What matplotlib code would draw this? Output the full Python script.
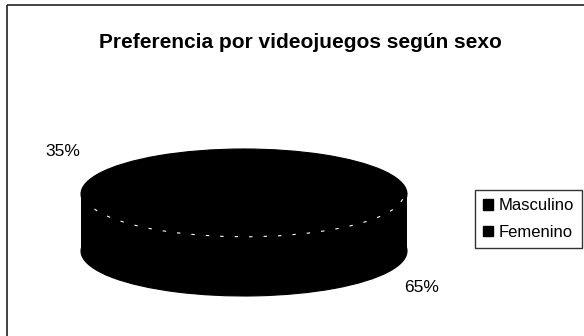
import matplotlib.pyplot as plt
from matplotlib.patches import Patch, Rectangle, Arc

# data
categories = ["Masculino", "Femenino"]
values = [35, 65]
pct_labels = [f"{v}%" for v in values]
colors = ["#000000", "#000000"]   # scanned print: both slices came out black

W, H = 584, 336
fig = plt.figure(figsize=(W / 100, H / 100), dpi=100)
plt.rcParams['font.family'] = ['Liberation Sans', 'DejaVu Sans']

# background axes in pixel units
bg = fig.add_axes([0, 0, 1, 1])
bg.set_xlim(0, W)
bg.set_ylim(H, 0)
bg.axis('off')
bg.add_patch(Rectangle((7, 5), W, H, fill=False, edgecolor='#222222', linewidth=1.2))

bg.text(300, 43, "Preferencia por videojuegos según sexo", ha='center', va='center',
        fontsize=15, fontweight='bold')
bg.text(63, 152, pct_labels[0], ha='center', va='center', fontsize=12.5)
bg.text(422, 287, pct_labels[1], ha='center', va='center', fontsize=12.5)

# pie axes: unit circle squashed into an ellipse, with extra room for the depth
cx_l, cx_r = 81, 407          # left / right edge of the ellipse in px
top, ry_px, depth_px = 149, 45, 57
depth = depth_px / ry_px
ax = fig.add_axes([cx_l / W, (H - (top + 2 * ry_px + depth_px)) / H,
                   (cx_r - cx_l) / W, (2 * ry_px + depth_px) / H])

wp = dict(linewidth=0.8, edgecolor='black')
# bottom of the cylinder
ax.pie(values, colors=colors, startangle=90, counterclock=True, radius=1,
       center=(0, -depth), frame=True, wedgeprops=wp)
ax.add_patch(Rectangle((-1, -depth), 2, depth, color='black', linewidth=0.8))
# top face
ax.pie(values, colors=colors, startangle=90, counterclock=True, radius=1,
       center=(0, 0), frame=True, wedgeprops=wp)

# faint, broken white rim on the front edge of the top face
ax.add_patch(Arc((0, 0), 1.96, 1.9, theta1=200, theta2=355, color='white',
                 linewidth=0.8, linestyle=(0, (3, 10))))

ax.set_aspect('auto')
ax.set_xlim(-1, 1)
ax.set_ylim(-1 - depth, 1)
ax.axis('off')

handles = [Patch(facecolor=c, edgecolor='black') for c in colors]
fig.legend(handles, categories, loc='upper left', bbox_to_anchor=(475 / W, 1 - 190 / H),
           fontsize=12, frameon=True, fancybox=False, edgecolor='black',
           handlelength=0.6, handleheight=0.6, handletextpad=0.3,
           borderpad=0.5, labelspacing=0.7, borderaxespad=0)

fig.savefig("out.png", dpi=100)
